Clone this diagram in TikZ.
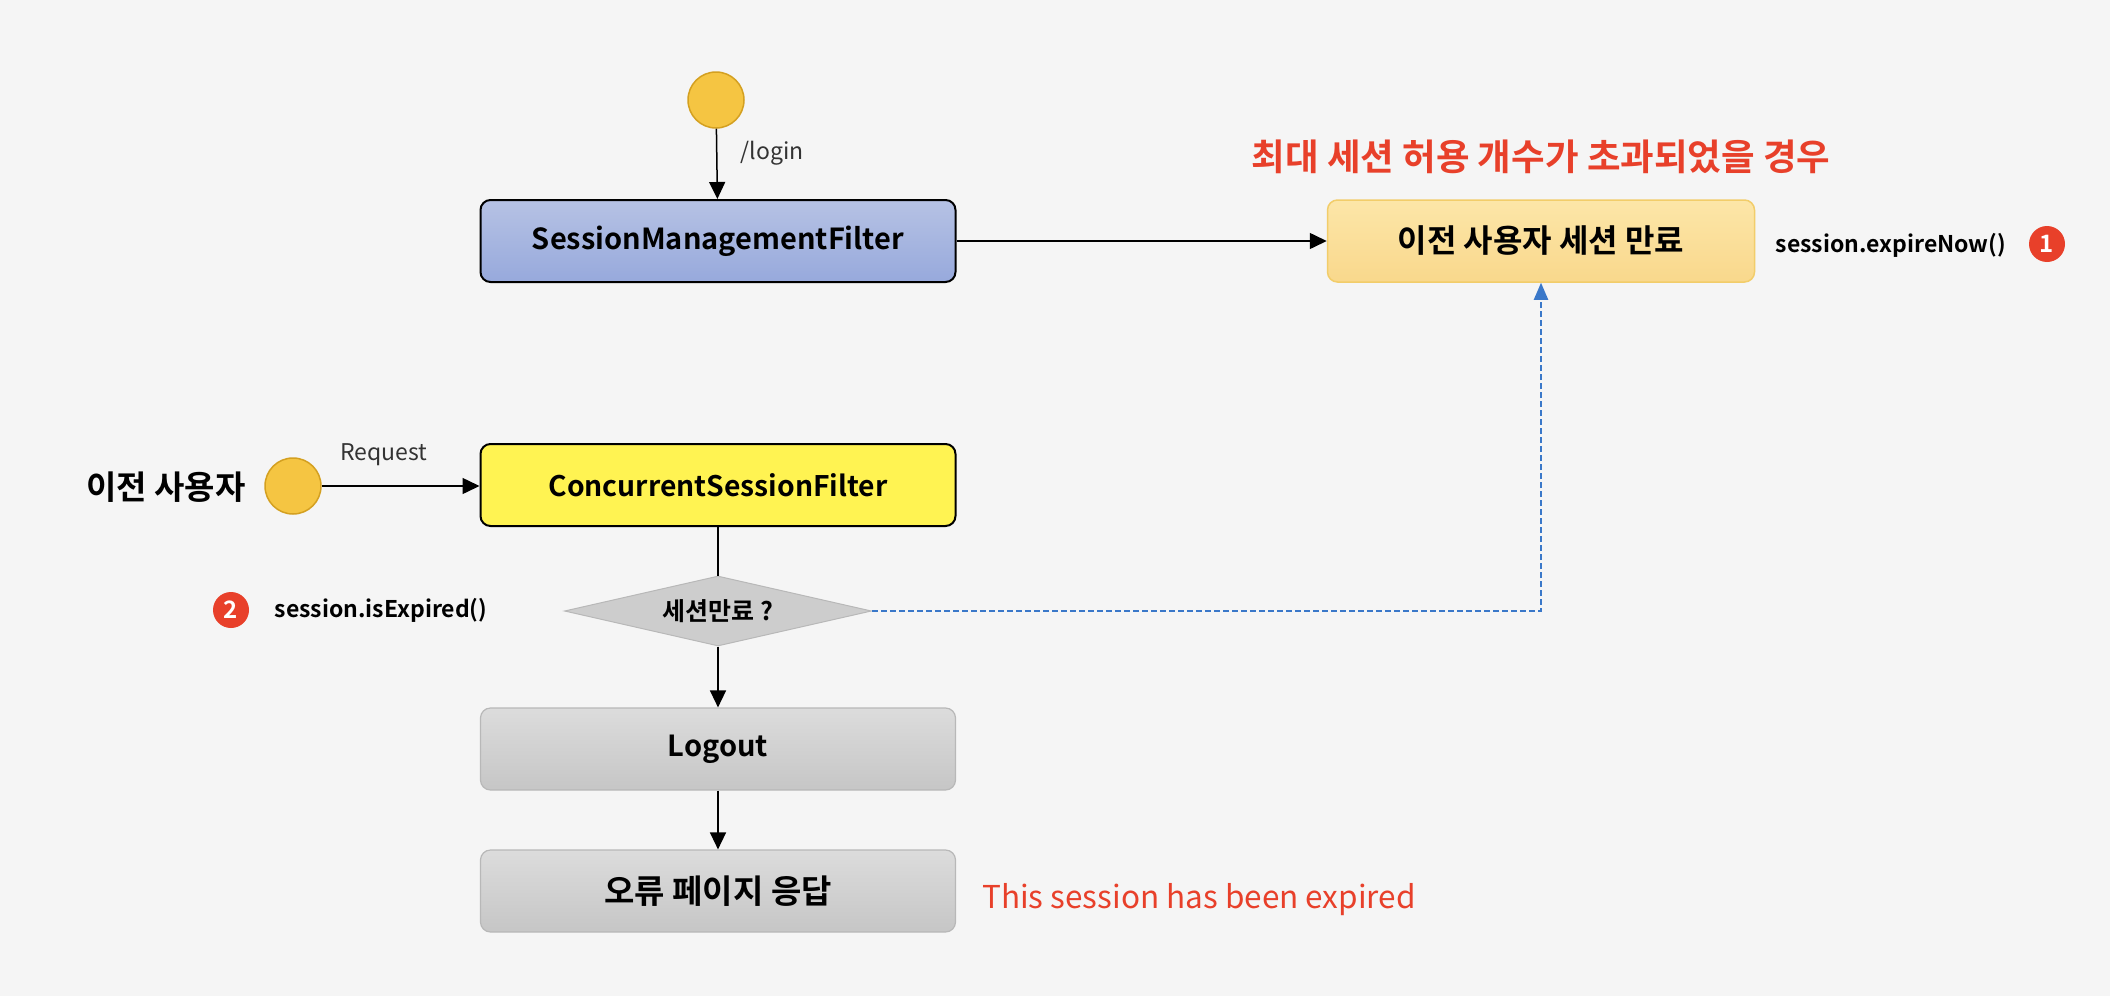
\documentclass[tikz,border=0pt]{standalone}
\usepackage{fontspec}
\setmainfont{Noto Sans CJK KR}[BoldFont={Noto Sans CJK KR Bold}]
\usetikzlibrary{arrows.meta,shapes.geometric}
\definecolor{bg}{HTML}{F5F5F5}
\definecolor{startfill}{HTML}{F5C542}
\definecolor{startdraw}{HTML}{D4A020}
\definecolor{bluetop}{HTML}{B6C2E4}
\definecolor{bluebot}{HTML}{97A9DC}
\definecolor{orgtop}{HTML}{FCE6A8}
\definecolor{orgbot}{HTML}{F9D88C}
\definecolor{orgdraw}{HTML}{F2CD6A}
\definecolor{csfyellow}{HTML}{FFF352}
\definecolor{graytop}{HTML}{DCDCDC}
\definecolor{graybot}{HTML}{C6C6C6}
\definecolor{graydraw}{HTML}{B8B8B8}
\definecolor{diafill}{HTML}{CDCDCD}
\definecolor{accent}{HTML}{E8402A}
\definecolor{dashblue}{HTML}{3A78C9}
\tikzset{
  startnode/.style={circle, fill=startfill, draw=startdraw, line width=1.5pt, minimum size=56pt, inner sep=0pt},
  boxbase/.style={rounded corners=10pt, minimum width=475pt, minimum height=82pt, inner sep=0pt, font=\fontsize{29}{35}\selectfont\bfseries},
  bluebox/.style={boxbase, draw=black, line width=2pt, top color=bluetop, bottom color=bluebot},
  orangebox/.style={boxbase, minimum width=427pt, draw=orgdraw, line width=1.5pt, top color=orgtop, bottom color=orgbot, font=\fontsize{32}{38}\selectfont\bfseries},
  yellowbox/.style={boxbase, draw=black, line width=2pt, fill=csfyellow, font=\fontsize{28.3}{34}\selectfont\bfseries},
  graybox/.style={boxbase, draw=graydraw, line width=1.2pt, top color=graytop, bottom color=graybot},
  decision/.style={diamond, aspect=4.4, fill=diafill, draw=graydraw, line width=1pt, minimum width=307pt, minimum height=70pt, inner sep=0pt, font=\fontsize{25}{30}\selectfont\bfseries},
  numbadge/.style={circle, fill=accent, text=white, minimum size=36pt, inner sep=0pt, font=\fontsize{24}{28}\selectfont\bfseries},
  flow/.style={draw=black, line width=1.5pt, -{Triangle[length=17pt,width=16pt]}},
  plainline/.style={draw=black, line width=1.5pt},
  dashflow/.style={draw=dashblue, line width=2pt, dash pattern=on 6pt off 3pt, -{Triangle[length=17pt,width=14pt]}},
  smalllabel/.style={font=\fontsize{23}{27}\selectfont, text=black!80},
  codelabel/.style={font=\fontsize{23}{27}\selectfont\bfseries},
}
\begin{document}
\begin{tikzpicture}[x=1pt,y=-1pt]
\path[use as bounding box, fill=bg] (0,0) rectangle (2110,996);
% nodes
\node[startnode] (s1) at (716,100) {};
\node[bluebox] (smf) at (718,241) {SessionManagementFilter};
\node[orangebox] (exp) at (1541,241) {이전 사용자 세션 만료};
\node[font=\fontsize{36.5}{42}\selectfont\bfseries, text=accent] (title) at (1541,157) {최대 세션 허용 개수가 초과되었을 경우};
\node[codelabel] (expnow) at (1891,245) {session.expireNow()};
\node[numbadge] (n1) at (2047,244) {1};
\node[startnode] (s2) at (293,486) {};
\node[font=\fontsize{33}{40}\selectfont\bfseries] (user) at (166,487) {이전 사용자};
\node[yellowbox] (csf) at (718,485) {ConcurrentSessionFilter};
\node[decision] (dia) at (718,611) {세션만료 ?};
\node[numbadge] (n2) at (231,610) {2};
\node[codelabel] (isexp) at (381,610) {session.isExpired()};
\node[graybox] (logout) at (718,749) {Logout};
\node[graybox, font=\fontsize{33}{40}\selectfont\bfseries] (err) at (718,891) {오류 페이지 응답};
\node[font=\fontsize{31.5}{38}\selectfont, text=accent] (msg) at (1199,900) {This session has been expired};
\node[smalllabel] (loginlbl) at (772,153) {/login};
\node[smalllabel] (reqlbl) at (384,455) {Request};
% connectors
\draw[flow] (s1) -- (smf);
\draw[flow] (smf) -- (exp);
\draw[flow] (s2) -- (csf.west |- s2);
\draw[plainline] (csf) -- (dia);
\draw[flow] (dia) -- (logout);
\draw[flow] (logout) -- (err);
\draw[dashflow] (dia.east) -- (dia.east -| exp.south) -- (exp.south);
\end{tikzpicture}
\end{document}
